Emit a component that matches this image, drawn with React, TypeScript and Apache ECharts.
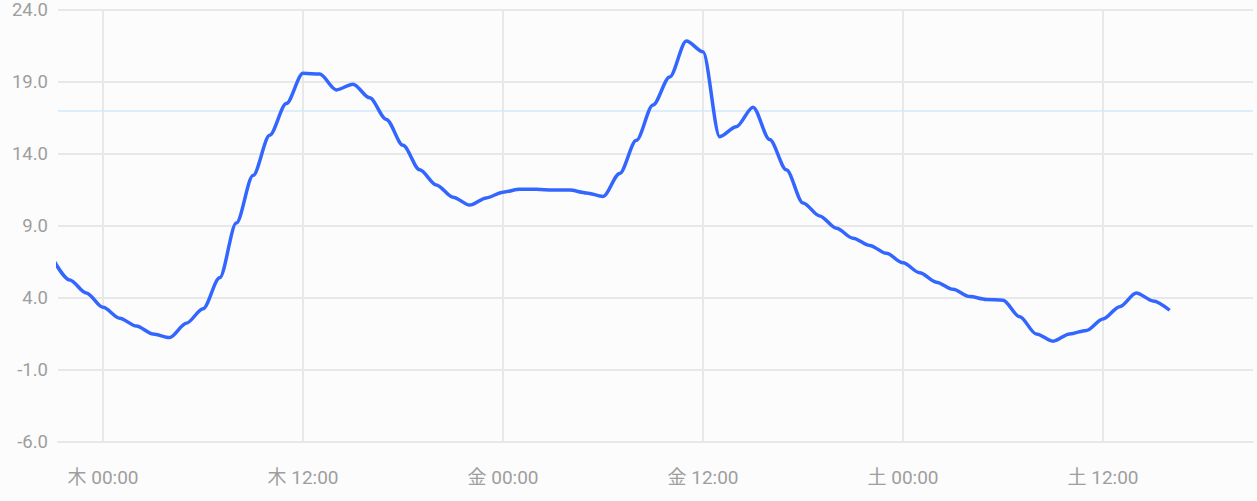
import React, { useEffect, useRef } from "react";
import * as echarts from "echarts";

// Hourly temperatures, first value at Wed 21:00 (hour -3 from Thu 00:00)
const startHour = -3;
const temperatures = [
  6.7, 5.25, 4.35, 3.35, 2.6, 2.05, 1.5, 1.25, 2.25, 3.25,
  5.4, 9.2, 12.5, 15.3, 17.5, 19.6, 19.55, 18.45, 18.85, 17.9,
  16.4, 14.6, 12.9, 11.85, 11.0, 10.45, 10.95, 11.35, 11.55, 11.55,
  11.5, 11.5, 11.3, 11.05, 12.65, 14.95, 17.4, 19.35, 21.85, 21.1,
  15.2, 15.9, 17.25, 15.0, 12.9, 10.6, 9.7, 8.85, 8.15, 7.65,
  7.1, 6.45, 5.75, 5.1, 4.6, 4.1, 3.9, 3.85, 2.7, 1.5,
  1.0, 1.5, 1.75, 2.55, 3.4, 4.35, 3.8, 3.15,
];

const tickHours = [0, 12, 24, 36, 48, 60];
const tickLabels = ["木 00:00", "木 12:00", "金 00:00", "金 12:00", "土 00:00", "土 12:00"];
const thresholdValue = 17;

const xMin = -2.7;
const xMax = 69;
const yMin = -6;
const yMax = 24;
const yInterval = 5;

export default function App() {
  const ref = useRef<HTMLDivElement>(null);

  useEffect(() => {
    if (!ref.current) return;
    const chart = echarts.init(ref.current, undefined, { renderer: "svg" });
    const data = temperatures.map((v, i) => [startHour + i, v]);
    const gridColor = "#e8e8e8";
    const labelColor = "#9e9e9e";
    chart.setOption({
      animation: false,
      backgroundColor: "#fcfcfc",
      grid: { left: 58, right: 4, top: 10, bottom: 59, containLabel: false },
      xAxis: {
        type: "value",
        min: xMin,
        max: xMax,
        axisLine: { show: true, onZero: false, lineStyle: { color: gridColor, width: 2 } },
        axisTick: { show: false, customValues: tickHours },
        axisLabel: {
          customValues: tickHours,
          color: labelColor,
          fontSize: 19,
          fontFamily: "Roboto, 'Noto Sans CJK JP', sans-serif",
          margin: 26,
          formatter: (v: number) => {
            const idx = tickHours.indexOf(v);
            return idx >= 0 ? tickLabels[idx] : "";
          },
        },
        splitLine: { show: true, lineStyle: { color: gridColor, width: 2 } },
      },
      yAxis: {
        type: "value",
        min: yMin,
        max: yMax,
        interval: yInterval,
        axisLine: { show: true, lineStyle: { color: gridColor, width: 2 } },
        axisTick: { show: false },
        axisLabel: {
          color: labelColor,
          fontSize: 18.5,
          fontFamily: "Roboto, sans-serif",
          margin: 10,
          padding: [4, 0, 0, 0],
          formatter: (v: number) => v.toFixed(1),
        },
        splitLine: { show: true, lineStyle: { color: gridColor, width: 2 } },
      },
      series: [
        {
          type: "line",
          data: [],
          z: 1,
          silent: true,
          markLine: {
            silent: true,
            symbol: ["none", "none"],
            label: { show: false },
            lineStyle: { color: "#d2e9fd", width: 1.5, type: "solid" },
            data: [{ yAxis: thresholdValue }],
          },
        },
        {
          type: "line",
          data,
          z: 5,
          smooth: 0.3,
          smoothMonotone: "x",
          showSymbol: false,
          clip: true,
          lineStyle: { color: "#3366ff", width: 3.5 },
          itemStyle: { color: "#3366ff" },
        },
      ],
    });
    return () => chart.dispose();
  }, []);

  return (
    <div
      ref={ref}
      style={{ position: "fixed", left: 0, top: 0, width: 1257, height: 501 }}
    />
  );
}
